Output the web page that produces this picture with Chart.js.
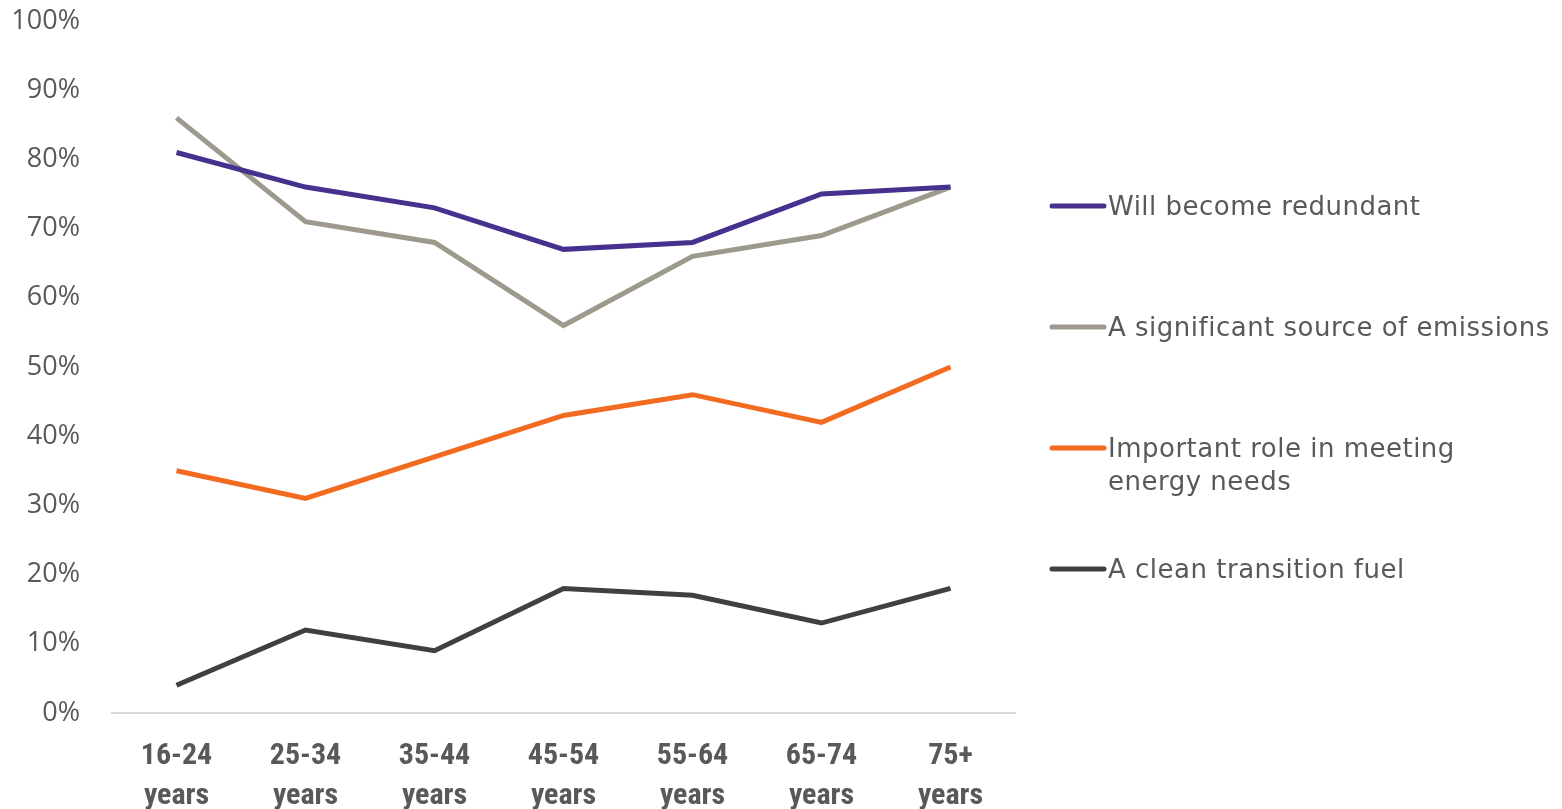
<!DOCTYPE html>
<html>
<head>
<meta charset="utf-8">
<script src="https://cdn.jsdelivr.net/npm/chart.js@4.4.0/dist/chart.umd.min.js"></script>
<style>
  html, body { margin: 0; padding: 0; background: #fff; }
  #wrap { width: 1562px; height: 809px; position: relative; }
</style>
</head>
<body>
<div id="wrap"><canvas id="chart"></canvas></div>
<script>
// Age groups along the x axis
const ageGroups = [['16-24', 'years'], ['25-34', 'years'], ['35-44', 'years'], ['45-54', 'years'],
                   ['55-64', 'years'], ['65-74', 'years'], ['75+', 'years']];

// Share of respondents (%) per statement
const willBecomeRedundant = [81, 76, 73, 67, 68, 75, 76];
const significantEmissions = [86, 71, 68, 56, 66, 69, 76];
const importantRole = [35, 31, 37, 43, 46, 42, 50];
const cleanTransition = [4, 12, 9, 18, 17, 13, 18];

const seriesLabels = [
    ['Will become redundant'],
    ['A significant source of emissions'],
    ['Important role in meeting', 'energy needs'],
    ['A clean transition fuel']
];
const seriesColors = ['#47318f', '#9d9a8d', '#f26b21', '#404040'];

const yTicks = [0, 10, 20, 30, 40, 50, 60, 70, 80, 90, 100];

// Legend drawn on the right, one entry per dataset
const sideLegend = {
    id: 'sideLegend',
    afterDraw(chart) {
        const ctx = chart.ctx;
        const x0 = 1052, x1 = 1104, tx = 1108;
        ctx.save();
        ctx.font = '26px "DejaVu Sans", sans-serif';
        ctx.letterSpacing = '0.5px';
        ctx.textBaseline = 'middle';
        chart.data.datasets.forEach((ds, i) => {
            const y = 206 + i * 121;
            ctx.strokeStyle = ds.borderColor;
            ctx.lineWidth = 5;
            ctx.lineCap = 'round';
            ctx.beginPath();
            ctx.moveTo(x0, y);
            ctx.lineTo(x1, y);
            ctx.stroke();
            ctx.fillStyle = '#595959';
            seriesLabels[i].forEach((line, j) => ctx.fillText(line, tx, y + 2 + j * 33));
        });
        ctx.restore();
    }
};

const datasets = [willBecomeRedundant, significantEmissions, importantRole, cleanTransition].map((data, i) => ({
    label: seriesLabels[i].join(' '),
    data: data,
    borderColor: seriesColors[i],
    backgroundColor: seriesColors[i],
    borderWidth: 5,
    pointRadius: 0,
    tension: 0,
    fill: false
}));

new Chart(document.getElementById('chart'), {
    type: 'line',
    data: { labels: ageGroups, datasets: datasets },
    options: {
        responsive: true,
        maintainAspectRatio: false,
        animation: false,
        layout: { padding: { top: 21, right: 547, left: 0, bottom: 0 } },
        plugins: {
            legend: { display: false },
            tooltip: { enabled: false }
        },
        scales: {
            x: {
                offset: true,
                grid: { display: false, drawTicks: false },
                border: { display: true, color: '#d9d9d9', width: 2 },
                ticks: {
                    color: '#595959',
                    font: { family: '"Liberation Sans Narrow", "Roboto Condensed", Roboto, sans-serif', size: 30, weight: 'bold', lineHeight: 1.34 },
                    padding: 23,
                    maxRotation: 0,
                    autoSkip: false
                },
                afterFit(scale) { scale.height = 96; }
            },
            y: {
                min: 0,
                max: 100,
                afterBuildTicks(scale) { scale.ticks = yTicks.map(v => ({ value: v })); },
                grid: { display: false, drawTicks: false },
                border: { display: false },
                ticks: {
                    color: '#595959',
                    font: { family: '"Open Sans", sans-serif', size: 27 },
                    padding: 32,
                    callback: v => v + '%'
                },
                afterFit(scale) {
                    scale.width = 112;
                    scale.paddingTop = 0;
                    scale.paddingBottom = 0;
                }
            }
        }
    },
    plugins: [sideLegend]
});
</script>
</body>
</html>
